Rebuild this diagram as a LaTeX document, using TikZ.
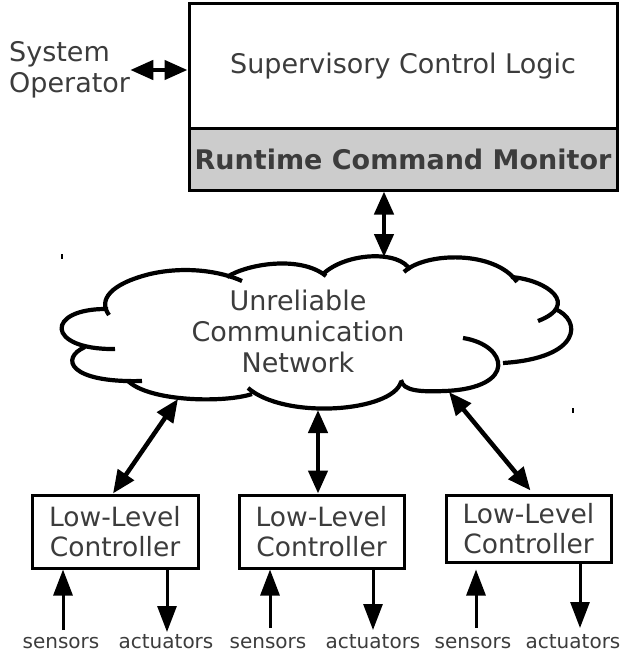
\documentclass[tikz,border=0pt]{standalone}
\usepackage{fontspec}
\setmainfont{DejaVu Sans}
\usetikzlibrary{arrows.meta}
\definecolor{txt}{RGB}{60,60,60}
\definecolor{mon}{RGB}{204,204,204}
\tikzset{
  boxstyle/.style={draw=black, line width=3pt, inner sep=0pt, text=txt, align=center},
  bigtext/.style={font=\fontsize{27}{31}\selectfont},
  lltext/.style={font=\fontsize{26.5}{29.5}\selectfont},
  smalltext/.style={font=\fontsize{20}{24}\selectfont, text=txt, inner sep=0pt},
  dblarrow/.style={line width=4.5pt, {Triangle[length=23pt,width=19pt]}-{Triangle[length=23pt,width=19pt]}},
  sarrow/.style={line width=3pt, -{Triangle[length=26pt,width=19pt]}},
  cloudline/.style={line width=4.2pt},
}
\begin{document}
\begin{tikzpicture}[x=1pt,y=1pt]
\useasboundingbox (0,0) rectangle (621,-655);

% top boxes
\node[boxstyle, bigtext, minimum width=428pt, minimum height=125pt] (scl) at (403,-66.5) {Supervisory Control Logic};
\node[boxstyle, bigtext, fill=mon, minimum width=428pt, minimum height=61pt, font=\fontsize{27}{31}\selectfont\bfseries] (rcm) at (403,-159.5) {Runtime Command Monitor};

% operator
\node[bigtext, text=txt, align=left, anchor=west, inner sep=0pt] (op) at (9,-70) {System\\Operator};
\draw[dblarrow] (op.east) -- (scl.west |- op.east);

% cloud
\begin{scope}[cloudline]
\draw (109,-315) .. controls (98,-300) and (110,-284) .. (150,-274) .. controls (185,-266) and (220,-271) .. (242,-281);
\draw (227,-277) .. controls (247,-264) and (300,-255) .. (326,-276);
\draw (322,-275) .. controls (345,-252) and (400,-250) .. (410,-270);
\draw (404,-272) .. controls (425,-252) and (495,-250) .. (517,-282);
\draw (511,-277) .. controls (548,-280) and (580,-305) .. (538,-321);
\draw (555,-309) .. controls (582,-320) and (582,-358) .. (503,-363);
\draw (463,-338) .. controls (508,-345) and (518,-388) .. (445,-391) .. controls (420,-392) and (403,-391) .. (401,-380);
\draw (401,-382) .. controls (392,-412) and (285,-420) .. (248,-388);
\draw (128,-381) .. controls (150,-402) and (225,-403) .. (252,-394);
\draw (85,-347) .. controls (60,-358) and (68,-383) .. (142,-381);
\draw (108,-309) .. controls (45,-308) and (45,-350) .. (115,-349);
\end{scope}
\node[bigtext, text=txt, align=center, inner sep=0pt] (net) at (298,-331) {Unreliable\\Communication\\Network};

% stray ticks
\draw[line width=2pt] (62,-254) -- (62,-259);
\draw[line width=2pt] (573,-408) -- (573,-413);

% cloud anchor points
\coordinate (ctop) at (384,-257);
\coordinate (c1) at (178,-399);
\coordinate (c2) at (318,-410);
\coordinate (c3) at (449,-392);

\draw[dblarrow] (rcm.south -| ctop) -- (ctop);

% low-level controllers
\node[boxstyle, lltext, minimum width=166pt, minimum height=73pt] (llc1) at (115,-531.5) {Low-Level\\Controller};
\node[boxstyle, lltext, minimum width=165pt, minimum height=73pt] (llc2) at (321.5,-531.5) {Low-Level\\Controller};
\node[boxstyle, lltext, minimum width=165pt, minimum height=67pt] (llc3) at (528.5,-528.5) {Low-Level\\Controller};

\draw[dblarrow] (c1) -- ([xshift=-2pt]llc1.north);
\draw[dblarrow] (c2) -- (c2 |- llc2.north);
\draw[dblarrow] (c3) -- ([xshift=2pt,yshift=3pt]llc3.north);

% sensors / actuators
\node[smalltext, anchor=base] (sl1) at (61,-648) {sensors};
\node[smalltext, anchor=base] (al1) at (166,-648) {actuators};
\node[smalltext, anchor=base] (sl2) at (268,-648) {sensors};
\node[smalltext, anchor=base] (al2) at (373,-648) {actuators};
\node[smalltext, anchor=base] (sl3) at (473,-648) {sensors};
\node[smalltext, anchor=base] (al3) at (573,-648) {actuators};

\coordinate (s1) at (63,-630);
\coordinate (a1) at (167,-632);
\coordinate (s2) at (270,-628);
\coordinate (a2) at (373,-630);
\coordinate (s3) at (476,-628);
\coordinate (a3) at (580,-628);

\draw[sarrow] (s1) -- (s1 |- llc1.south);
\draw[sarrow] (a1 |- llc1.south) -- (a1);
\draw[sarrow] (s2) -- (s2 |- llc2.south);
\draw[sarrow] (a2 |- llc2.south) -- (a2);
\draw[sarrow] (s3) -- ([yshift=-6pt]s3 |- llc3.south);
\draw[sarrow] (a3 |- llc3.south) -- (a3);
\end{tikzpicture}
\end{document}
